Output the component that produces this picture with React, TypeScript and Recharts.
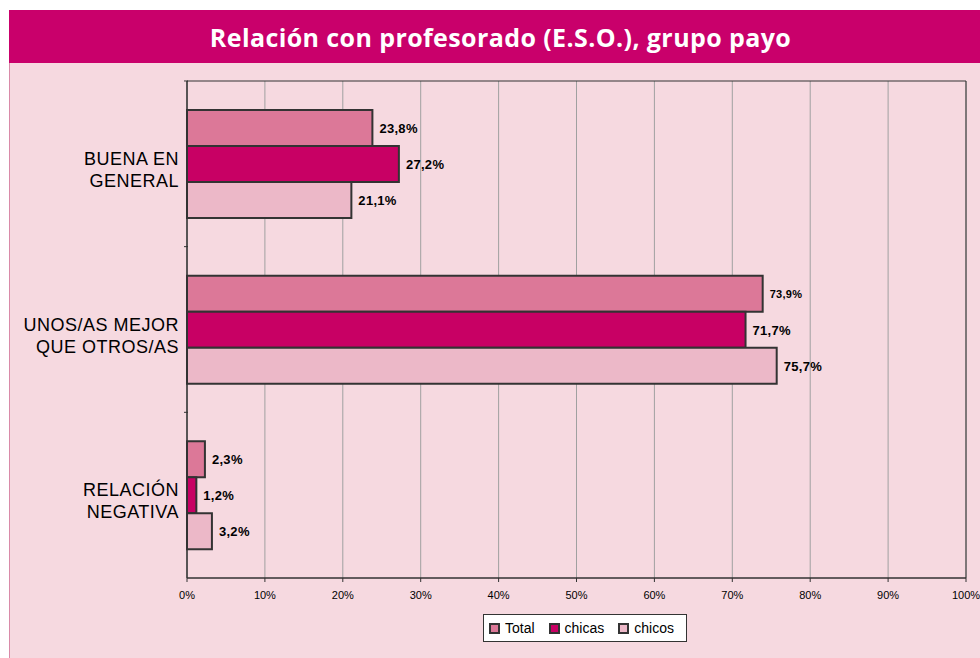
import React from 'react';
import { BarChart, Bar, XAxis, YAxis, CartesianGrid, LabelList, Legend, ReferenceArea } from 'recharts';

const categories = ['BUENA EN GENERAL', 'UNOS/AS MEJOR QUE OTROS/AS', 'RELACIÓN NEGATIVA'];
const categoryLines = [['BUENA EN', 'GENERAL'], ['UNOS/AS MEJOR', 'QUE OTROS/AS'], ['RELACIÓN', 'NEGATIVA']];
const total = [23.8, 73.9, 2.3];
const chicas = [27.2, 71.7, 1.2];
const chicos = [21.1, 75.7, 3.2];
const xTicks = [0, 10, 20, 30, 40, 50, 60, 70, 80, 90, 100];

const series = [
  { key: 'total', name: 'Total', color: '#DC7898' },
  { key: 'chicas', name: 'chicas', color: '#C80064' },
  { key: 'chicos', name: 'chicos', color: '#ECB8C8' },
];

const data = categories.map((c, i) => ({
  cat: c,
  total: total[i],
  chicas: chicas[i],
  chicos: chicos[i],
}));

const fmt = (v: number) => v.toFixed(1).replace('.', ',') + '%';
const FONT = 'Arial, "Liberation Sans", sans-serif';

const YTick = (props: any) => {
  const { x, y, payload, index } = props;
  const lines = categoryLines[payload.index ?? index] || [payload.value];
  const band = 165.7;
  return (
    <g>
      <line x1={x + 3} x2={x + 7} y1={y - band / 2} y2={y - band / 2} stroke="#333" />
      <text x={x - 2} y={y} textAnchor="end" fontFamily={FONT} fontSize={18} letterSpacing={0.5} fill="#000">
        {lines.map((l: string, i: number) => (
          <tspan key={i} x={x - 2} dy={i === 0 ? 1 : 22}>{l}</tspan>
        ))}
      </text>
    </g>
  );
};

const makeLabel = (small: number) => (props: any) => {
  const { x, y, width, height, value, index } = props;
  const fs = index === small ? 11 : 13;
  return (
    <text x={x + width + 7} y={y + height / 2} dy={fs === 13 ? 5 : 4} fontFamily={FONT} fontSize={fs} fontWeight="bold" letterSpacing={0.3} fill="#000">
      {fmt(value)}
    </text>
  );
};

const LegendBox = () => (
  <div style={{ display: 'flex', alignItems: 'center', background: '#fff', border: '1px solid #333', height: 28, boxSizing: 'border-box', paddingLeft: 5, fontFamily: FONT, fontSize: 14, color: '#000' }}>
    {series.map((s) => (
      <div key={s.key} style={{ display: 'flex', alignItems: 'center', marginRight: 14 }}>
        <span style={{ display: 'inline-block', width: 7, height: 7, background: s.color, border: '2px solid #333', marginRight: 5 }} />
        <span>{s.name}</span>
      </div>
    ))}
  </div>
);

export default function App() {
  return (
    <div style={{ position: 'absolute', left: 0, top: 0, width: 980, height: 658, background: '#fff', overflow: 'hidden' }}>
      <div style={{ position: 'absolute', left: 9, top: 10, width: 971, height: 53, boxSizing: 'border-box', paddingLeft: 12, background: '#C9006B', color: '#fff', fontFamily: '"Open Sans", sans-serif', fontWeight: 700, fontSize: 25, display: 'flex', alignItems: 'center', justifyContent: 'center', letterSpacing: 0.4 }}>
        Relación con profesorado (E.S.O.), grupo payo
      </div>
      <div style={{ position: 'absolute', left: 9, top: 63, width: 971, height: 595, background: '#F6D9E0', borderLeft: '1px solid #D98AA8', boxSizing: 'border-box' }} />
      <div style={{ position: 'absolute', left: 0, top: 0 }}>
        <BarChart
          width={980}
          height={658}
          data={data}
          layout="vertical"
          margin={{ top: 81, right: 14, bottom: 22, left: 5 }}
          barGap={0}
          barCategoryGap="17%"
        >
          <CartesianGrid horizontal={false} vertical stroke="#A0A0A0" />
          <XAxis
            type="number"
            domain={[0, 100]}
            ticks={xTicks}
            tickFormatter={(v) => `${v}%`}
            axisLine={{ stroke: '#333' }}
            tickLine={{ stroke: '#333' }}
            tickSize={4}
            tickMargin={9}
            tick={{ fontFamily: FONT, fontSize: 11, fill: '#000' }}
            height={30}
            interval={0}
          />
          <YAxis
            type="category"
            dataKey="cat"
            width={182}
            axisLine={{ stroke: '#333' }}
            tickLine={false}
            tick={<YTick />}
            tickMargin={0}
          />
          <ReferenceArea x1={0} x2={100} fill="none" stroke="#333" strokeWidth={1} ifOverflow="visible" />
          {series.map((s, si) => (
            <Bar key={s.key} dataKey={s.key} name={s.name} fill={s.color} stroke="#333" strokeWidth={2} barSize={36} isAnimationActive={false}>
              <LabelList dataKey={s.key} content={makeLabel(si === 0 ? 1 : -1)} />
            </Bar>
          ))}
          <Legend content={<LegendBox />} wrapperStyle={{ position: 'absolute', left: 483, top: 614, width: 204, bottom: 'auto' }} />
        </BarChart>
      </div>
    </div>
  );
}
